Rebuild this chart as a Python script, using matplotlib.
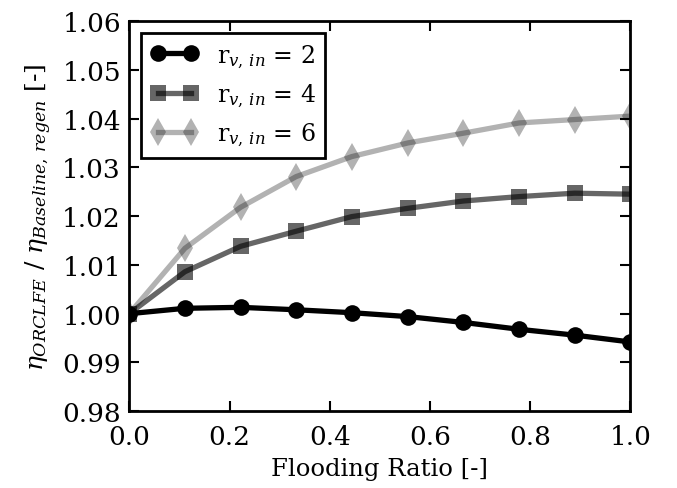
"""
Efficiency ratio of ORCLFE vs. regenerative baseline over flooding ratio.
"""
import matplotlib
matplotlib.use("Agg")
import matplotlib.pyplot as plt

plt.rcParams['font.family'] = ['DejaVu Serif']
plt.rcParams['mathtext.fontset'] = 'dejavuserif'
plt.rcParams['font.size'] = 17

flooding_ratio = [0.0, 0.111, 0.222, 0.333, 0.444, 0.556, 0.667, 0.778, 0.889, 1.0]
eta_rv2 = [1.0000, 1.0011, 1.0013, 1.0008, 1.0002, 0.9994, 0.9982, 0.9968, 0.9956, 0.9942]
eta_rv4 = [1.0000, 1.0086, 1.0138, 1.0169, 1.0199, 1.0216, 1.0231, 1.0240, 1.0247, 1.0245]
eta_rv6 = [1.0000, 1.0134, 1.0218, 1.0281, 1.0322, 1.0350, 1.0370, 1.0391, 1.0398, 1.0405]

labels = [r'$\mathrm{r}_{v,\,in}$ = 2', r'$\mathrm{r}_{v,\,in}$ = 4', r'$\mathrm{r}_{v,\,in}$ = 6']
yticks = [0.98, 0.99, 1.00, 1.01, 1.02, 1.03, 1.04, 1.05, 1.06]
xticks = [0.0, 0.2, 0.4, 0.6, 0.8, 1.0]

fig = plt.figure(figsize=(6.77, 4.89), dpi=100)
ax = fig.add_axes([0.191, 0.157, 0.740, 0.798])

ax.plot(flooding_ratio, eta_rv2, 'k-', marker='o', ms=12, mew=0, lw=3.8, label=labels[0])
ax.plot(flooding_ratio, eta_rv4, 'k-', marker='s', ms=12, mew=0, lw=3.8, alpha=0.6, label=labels[1])
ax.plot(flooding_ratio, eta_rv6, 'k-', marker='d', ms=14, mew=0, lw=3.8, alpha=0.3, label=labels[2])

ax.set_xlim(0, 1)
ax.set_ylim(0.98, 1.06)
ax.set_xticks(xticks)
ax.set_yticks(yticks)
ax.set_xticklabels(['%.1f' % t for t in xticks])
ax.set_yticklabels(['%.2f' % t for t in yticks])
ax.tick_params(direction='in', top=True, right=True, length=7, width=1.5, pad=6,
               labelsize=19)
ax.tick_params(axis='x', pad=9)
for s in ax.spines.values():
    s.set_linewidth(2)

ax.set_xlabel('Flooding Ratio [-]', fontsize=17.5, labelpad=6)
ax.set_ylabel(r'$\eta_{ORCLFE}$ / $\eta_{Baseline,\,regen}$ [-]', fontsize=18, labelpad=6)

leg = ax.legend(loc='upper left', numpoints=2, fancybox=False, framealpha=1,
                handlelength=2, borderaxespad=0.5)
leg.get_frame().set_edgecolor('k')
leg.get_frame().set_linewidth(2)

plt.savefig("out.png", dpi=100)
